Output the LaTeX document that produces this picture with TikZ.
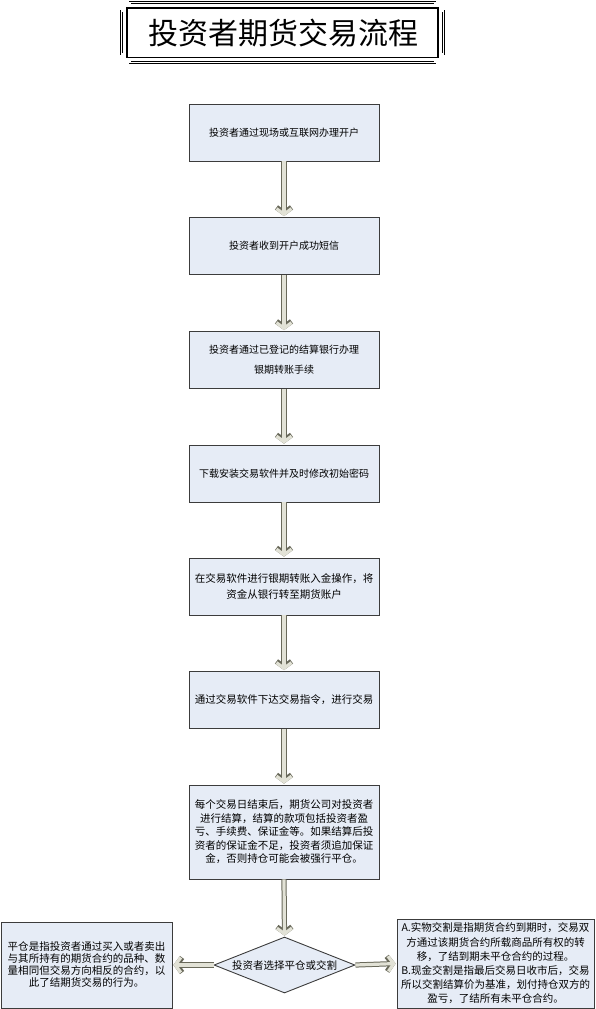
\documentclass[tikz,border=0pt]{standalone}
\usepackage{fontspec}
\setmainfont{Noto Sans CJK SC}
\usetikzlibrary{shapes.geometric,arrows.meta}
\definecolor{boxfill}{RGB}{230,236,246}
\definecolor{boxline}{RGB}{60,60,60}
\definecolor{arrfill}{RGB}{226,226,214}
\definecolor{arrline}{RGB}{105,105,90}
\begin{document}
\begin{tikzpicture}[x=1pt,y=-1pt,
  stepbox/.style={draw=boxline, fill=boxfill, line width=0.9pt, minimum width=190pt, minimum height=57pt, align=center, inner sep=0pt, font=\fontsize{10}{14}\selectfont},
  sidebox/.style={draw=boxline, fill=boxfill, line width=0.9pt, align=center, inner sep=0pt, font=\fontsize{10.5}{13.5}\selectfont},
  choice/.style={draw=boxline, fill=boxfill, line width=0.9pt, shape=diamond, aspect=2.5, inner sep=0pt, minimum width=141pt, minimum height=56pt, font=\fontsize{10.5}{13}\selectfont},
  flow/.style={preaction={draw=arrline, line width=5.2pt, -{Straight Barb[length=5.5pt,width=15pt]}},
    draw=arrfill, line width=3.2pt, shorten >=0.9pt, -{Straight Barb[length=5.5pt,width=15pt]}},
  frameline/.style={draw=black, line width=0.7pt}
]
\useasboundingbox (0,0) rectangle (596,1009);
% title frame
\draw[frameline, double=white, double distance=1.4pt]
  (130,2.5) -- (435,2.5) -- (435,11) -- (443.5,11) -- (443.5,54) -- (435,54) -- (435,62.5)
  -- (130,62.5) -- (130,54) -- (121.5,54) -- (121.5,11) -- (130,11) -- cycle;
\draw[draw=black, line width=1.2pt] (127,8) rectangle (438,57.5);
\node[font=\fontsize{30}{32}\selectfont] (title) at (283,33) {投资者期货交易流程};
% steps
\node[stepbox] (b1) at (284,132.5) {投资者通过现场或互联网办理开户};
\node[stepbox] (b2) at (284,246) {投资者收到开户成功短信};
\node[stepbox, font=\fontsize{10}{20}\selectfont] (b3) at (284,360) {投资者通过已登记的结算银行办理\\银期转账手续};
\node[stepbox] (b4) at (284,473.5) {下载安装交易软件并及时修改初始密码};
\node[stepbox, font=\fontsize{10.5}{16}\selectfont] (b5) at (284,586.5) {在交易软件进行银期转账入金操作，将\\资金从银行转至期货账户};
\node[stepbox, font=\fontsize{10.5}{14}\selectfont] (b6) at (284,700) {通过交易软件下达交易指令，进行交易};
\node[stepbox, minimum height=94pt, font=\fontsize{10.5}{13.5}\selectfont] (b7) at (284,832) {每个交易日结束后，期货公司对投资者\\进行结算，结算的款项包括投资者盈\\亏、手续费、保证金等。如果结算后投\\资者的保证金不足，投资者须追加保证\\金，否则持仓可能会被强行平仓。};
\node[choice] (d) at (284.5,965) {投资者选择平仓或交割};
\node[sidebox, minimum width=171pt, minimum height=86pt, font=\fontsize{10.5}{12}\selectfont] (L) at (86.5,965) {平仓是指投资者通过买入或者卖出\\与其所持有的期货合约的品种、数\\量相同但交易方向相反的合约，以\\此了结期货交易的行为。};
\node[sidebox, minimum width=197pt, minimum height=89pt, font=\fontsize{10.5}{14.2}\selectfont] (R) at (495.5,963.5) {A.实物交割是指期货合约到期时，交易双\\方通过该期货合约所载商品所有权的转\\移，了结到期未平仓合约的过程。\\B.现金交割是指最后交易日收市后，交易\\所以交割结算价为基准，划付持仓双方的\\盈亏，了结所有未平仓合约。};
% connectors
\draw[flow] (b1.south) -- (b2.north);
\draw[flow] (b2.south) -- (b3.north);
\draw[flow] (b3.south) -- (b4.north);
\draw[flow] (b4.south) -- (b5.north);
\draw[flow] (b5.south) -- (b6.north);
\draw[flow] (b6.south) -- (b7.north);
\draw[flow] (b7.south) -- (d.north);
\draw[flow] (d.west) -- (L.east);
\draw[flow] (d.east) -- (R.west);
\end{tikzpicture}
\end{document}
